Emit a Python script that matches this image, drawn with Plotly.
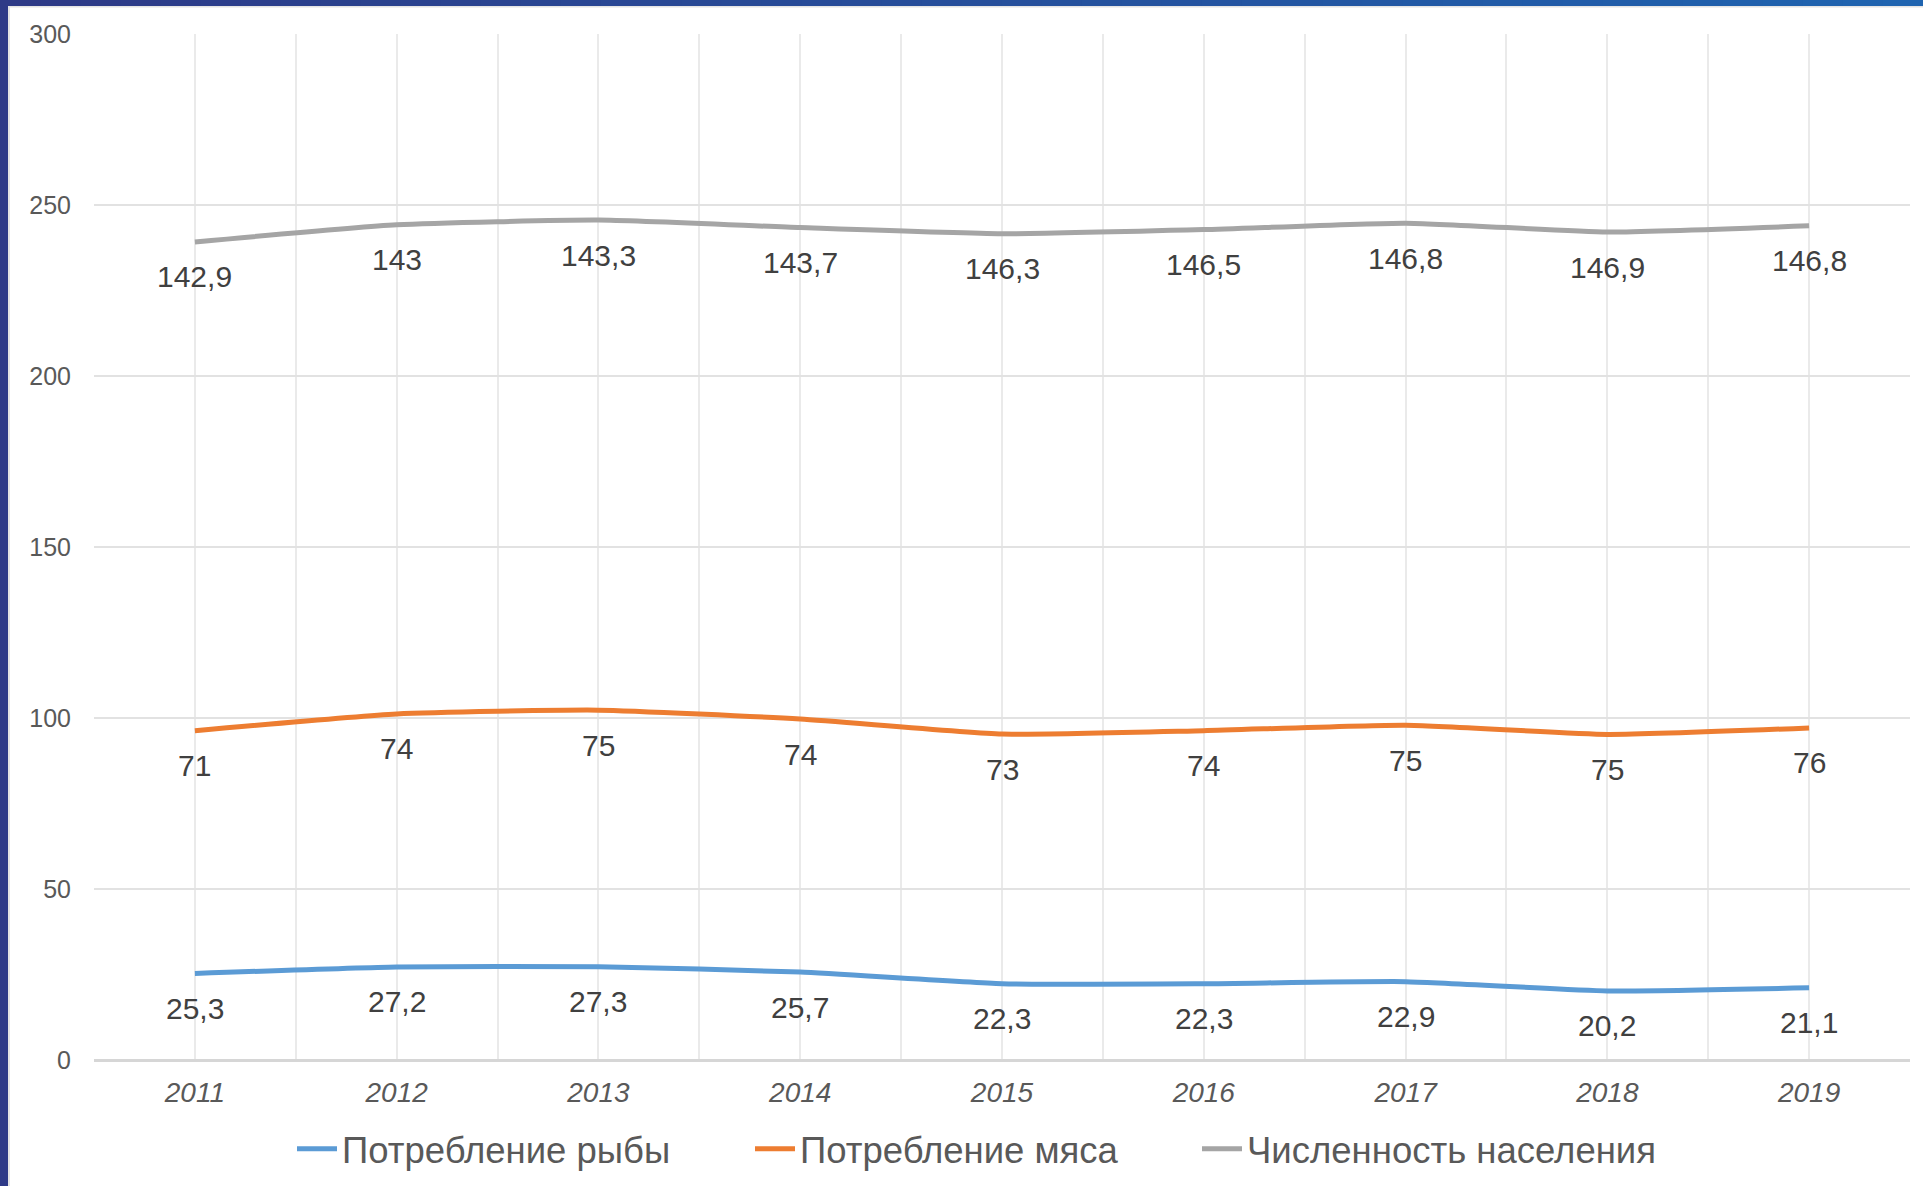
import plotly.graph_objects as go
import numpy as np

years = [2011, 2012, 2013, 2014, 2015, 2016, 2017, 2018, 2019]
fish = [25.3, 27.2, 27.3, 25.7, 22.3, 22.3, 22.9, 20.2, 21.1]
meat = [71, 74, 75, 74, 73, 74, 75, 75, 76]
population = [142.9, 143, 143.3, 143.7, 146.3, 146.5, 146.8, 146.9, 146.8]

series_names = ["Потребление рыбы", "Потребление мяса", "Численность населения"]
series_values = [fish, meat, population]
colors = ["#5B9BD5", "#ED7D31", "#A5A5A5"]

W, H = 1923, 1186
L, R, T, B = 94, 13, 34, 126
PW, PH = W - L - R, H - T - B

def px_x(p):
    return (p - L) / PW

def px_y(p):  # p measured from top
    return (H - B - p) / PH

legend_ids = ["legend", "legend2", "legend3"]
legend_left_px = [292, 750, 1197]

fig = go.Figure()
for name, vals, col, lg in zip(series_names, series_values, colors, legend_ids):
    fig.add_trace(go.Scatter(
        x=years, y=vals, name=name, mode="lines", stackgroup="one", fill="none",
        line=dict(color=col, width=5, shape="spline", smoothing=0.5),
        hoverinfo="skip", legend=lg,
    ))

def fmt(v):
    s = f"{v:g}"
    return s.replace(".", ",")

annotations = []
cum = np.zeros(len(years))
for vals in series_values:
    cum = cum + np.array(vals, dtype=float)
    for xv, yv, v in zip(years, cum, vals):
        annotations.append(dict(
            x=xv, y=yv, xref="x", yref="y", text=fmt(v), showarrow=False,
            yshift=-35, font=dict(size=30, color="#404040",
                                  family="Liberation Sans, Arial, sans-serif"),
        ))

shapes = []
# left navy border
shapes.append(dict(type="rect", xref="paper", yref="paper",
                   x0=px_x(0), x1=px_x(8), y0=px_y(H), y1=px_y(0),
                   fillcolor="#2E3A87", line=dict(width=0), layer="above"))
shapes.append(dict(type="rect", xref="paper", yref="paper",
                   x0=px_x(8), x1=px_x(10), y0=px_y(H), y1=px_y(6),
                   fillcolor="#E4E4E4", line=dict(width=0), layer="above"))
# top gradient border
c0 = np.array([0x2E, 0x3A, 0x87])
c1 = np.array([0x1F, 0x64, 0xB0])
n = 48
for i in range(n):
    t = i / (n - 1)
    c = (c0 * (1 - t) + c1 * t).astype(int)
    shapes.append(dict(type="rect", xref="paper", yref="paper",
                       x0=px_x(W * i / n), x1=px_x(W * (i + 1) / n + 1),
                       y0=px_y(6), y1=px_y(0),
                       fillcolor=f"rgb({c[0]},{c[1]},{c[2]})",
                       line=dict(width=0), layer="above"))
shapes.append(dict(type="rect", xref="paper", yref="paper",
                   x0=px_x(8), x1=px_x(W), y0=px_y(7.5), y1=px_y(6),
                   fillcolor="#E4E4E4", line=dict(width=0), layer="above"))

legend_layout = {}
for lg, lx in zip(legend_ids, legend_left_px):
    legend_layout[lg] = dict(
        orientation="h", x=px_x(lx), xanchor="left", y=px_y(1149),
        yanchor="middle", font=dict(size=36.5, color="#595959"),
        itemwidth=40, bgcolor="rgba(0,0,0,0)",
    )

fig.update_layout(
    width=W, height=H,
    margin=dict(l=L, r=R, t=T, b=B, autoexpand=False),
    paper_bgcolor="white", plot_bgcolor="white",
    font=dict(family="Liberation Sans, Arial, sans-serif", color="#595959"),
    showlegend=True,
    annotations=annotations,
    shapes=shapes,
    hovermode=False,
    **legend_layout,
)

fig.update_xaxes(
    range=[2010.5, 2019.5], tickmode="array", tickvals=years,
    ticktext=[str(y) for y in years],
    tickfont=dict(size=28, color="#595959", style="italic"),
    showgrid=True, gridcolor="#EAEAEA", gridwidth=2,
    minor=dict(tickmode="linear", tick0=2010.5, dtick=1, showgrid=True,
               gridcolor="#EAEAEA", gridwidth=2),
    zeroline=False, showline=False, ticks="", ticklabelstandoff=13,
)
fig.update_yaxes(
    range=[0, 300], tickmode="linear", tick0=0, dtick=50,
    tickfont=dict(size=25, color="#595959"),
    showgrid=True, gridcolor="#E2E2E2", gridwidth=2,
    zeroline=True, zerolinecolor="#D6D6D6", zerolinewidth=3,
    showline=False, ticks="", ticklabelstandoff=22,
)

fig.write_html("out.html", config={"displayModeBar": False},
               post_script="document.body.style.margin='0';document.body.style.overflow='hidden';")
